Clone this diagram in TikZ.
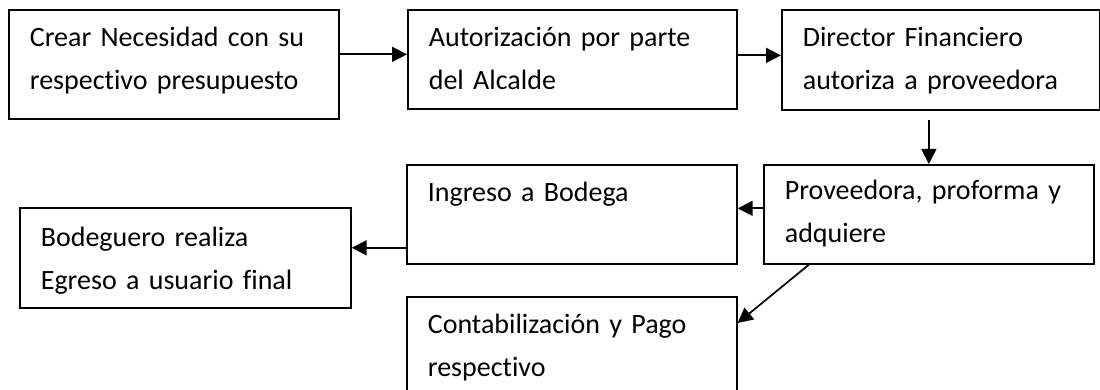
\documentclass[tikz,border=0pt]{standalone}
\usepackage{fontspec}
\setmainfont{Carlito}[Ligatures=NoCommon, WordSpace=0.8]
\usetikzlibrary{arrows.meta}
\tikzset{
  caja/.style={draw, line width=1.7pt, anchor=north west, inner xsep=21pt, inner ysep=0pt,
    minimum width=330pt, text width=288pt, align=left, text height=37pt, text depth=62pt,
    font=\fontsize{28pt}{43pt}\selectfont},
  flecha/.style={line width=1.7pt, -{Triangle[length=15pt,width=15pt]}}
}
\begin{document}
\begin{tikzpicture}[x=1pt,y=-1pt]
\useasboundingbox (0,0) rectangle (1100,390);
\clip (0,0) rectangle (1100,390);
% fila de arriba
\node [caja, text depth=72pt] (crear) at (8,9) {Crear Necesidad con su\\respectivo presupuesto};
\node [caja, minimum width=329pt, text width=287pt] (alcalde) at (407,9) {Autorización por parte\\del Alcalde};
\node [caja, minimum width=318pt, text width=276pt, text depth=63pt] (director) at (781,9) {Director Financiero\\autoriza a proveedora};
% fila del medio
\node [caja, text height=35pt, text depth=64pt] (proveedora) at (763,164) {Proveedora, proforma y\\adquiere};
\node [caja, text height=37pt] (ingreso) at (406,164) {Ingreso a Bodega};
\node [caja, minimum width=331pt, text width=289pt, text height=39pt, text depth=61pt] (bodeguero) at (19,207) {Bodeguero realiza\\Egreso a usuario final};
% abajo
\node [caja, text depth=80pt] (contab) at (406,296) {Contabilización y Pago\\respectivo};
% flechas
\draw [flecha] ([yshift=10pt]crear.east) -- ([yshift=10pt]crear.east -| alcalde.west);
\draw [flecha] ([yshift=4pt]alcalde.east) -- ([yshift=4pt]alcalde.east -| director.west);
\draw [flecha] ([yshift=-9pt]director.south -| proveedora.north) -- (proveedora.north);
\draw [flecha] ([yshift=6pt]proveedora.west) -- ([yshift=6pt]proveedora.west -| ingreso.east);
\draw [flecha] ([yshift=10pt]bodeguero.east -| ingreso.west) -- ([yshift=10pt]bodeguero.east);
\draw [flecha] ([xshift=-120pt]proveedora.south) -- ([yshift=-27pt]contab.north east);
\end{tikzpicture}
\end{document}
